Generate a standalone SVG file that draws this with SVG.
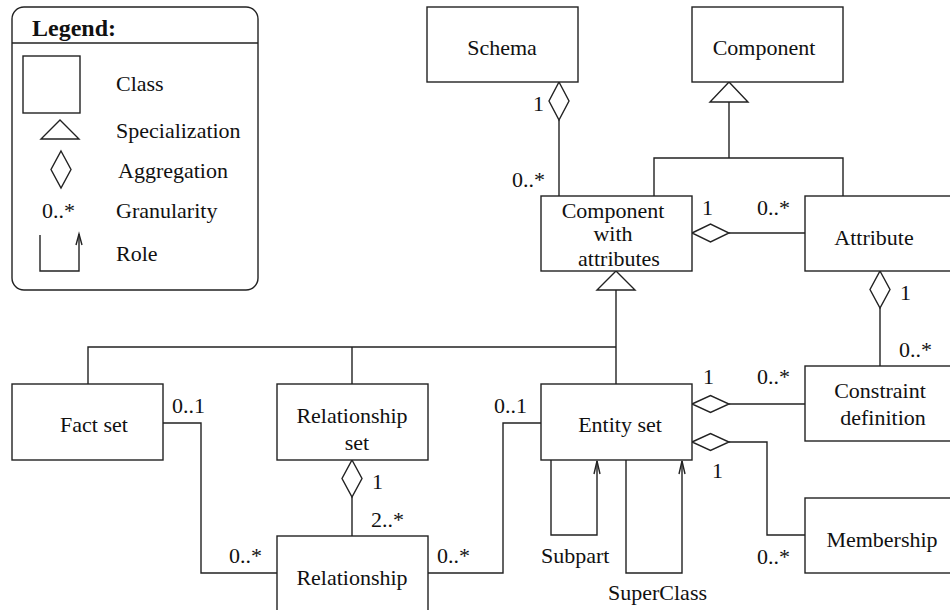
<svg xmlns="http://www.w3.org/2000/svg" width="950" height="610" viewBox="0 0 950 610">
  <style>
    .box { fill: #fff; stroke: #222; stroke-width: 1.4; }
    .ln { fill: none; stroke: #222; stroke-width: 1.4; }
    .sym { fill: #fff; stroke: #222; stroke-width: 1.4; }
    text { font-family: 'Liberation Serif', 'Times New Roman', Times, 'DejaVu Serif', serif; font-size: 22px; fill: #111; }
    .c { text-anchor: middle; }
    .b { font-weight: bold; font-size: 24px; }
  </style>
  <rect width="950" height="610" fill="#fff"/>

  <!-- Legend -->
  <g id="legend">
    <rect x="12" y="7" width="246" height="283" rx="12" ry="12" class="box"/>
    <line x1="12" y1="43" x2="258" y2="43" class="ln"/>
    <text x="32" y="36" class="b">Legend:</text>
    <rect x="23" y="56" width="57" height="57" class="box"/>
    <polygon points="60,120 79,139 41,139" class="sym"/>
    <polygon points="61,151 71,169.5 61,188 51,169.5" class="sym"/>
    <text x="42" y="218">0..*</text>
    <path d="M40 235 V271 H79 V234" class="ln"/>
    <path d="M76 245 L79 234 L82 245" class="ln"/>
    <text x="116" y="91">Class</text>
    <text x="116" y="138">Specialization</text>
    <text x="118" y="178">Aggregation</text>
    <text x="116" y="218">Granularity</text>
    <text x="116" y="261">Role</text>
  </g>

  <!-- Connectors -->
  <g id="connectors">
    <!-- Schema aggregates Component with attributes -->
    <line x1="559" y1="120" x2="559" y2="196" class="ln"/>
    <polygon points="559,82 569,101 559,120 549,101" class="sym"/>
    <!-- Component specialisation -->
    <line x1="729" y1="102" x2="729" y2="158" class="ln"/>
    <path d="M654 196 V158 H843 V196" class="ln"/>
    <polygon points="729,82 748,102 710,102" class="sym"/>
    <!-- Component with attributes aggregates Attribute -->
    <line x1="729" y1="233" x2="805" y2="233" class="ln"/>
    <polygon points="692,233 710.5,224 729,233 710.5,242" class="sym"/>
    <!-- Attribute aggregates Constraint definition -->
    <line x1="880" y1="308" x2="880" y2="366" class="ln"/>
    <polygon points="880,271 890,289.5 880,308 870,289.5" class="sym"/>
    <!-- Component with attributes specialisation -->
    <line x1="616" y1="290" x2="616" y2="384" class="ln"/>
    <path d="M88 384 V347 H616" class="ln"/>
    <line x1="352" y1="347" x2="352" y2="384" class="ln"/>
    <polygon points="616,271 635,290 597,290" class="sym"/>
    <!-- Fact set to Relationship -->
    <path d="M163 423 H201 V573 H277" class="ln"/>
    <!-- Relationship set aggregates Relationship -->
    <line x1="352" y1="497" x2="352" y2="536" class="ln"/>
    <polygon points="352,460 362,478.5 352,497 342,478.5" class="sym"/>
    <!-- Relationship to Entity set -->
    <path d="M428 573 H503 V423 H541" class="ln"/>
    <!-- Entity set roles -->
    <path d="M551 460 V535 H597 V461" class="ln"/>
    <path d="M594 474 L597 461 L600 474" class="ln"/>
    <path d="M626 460 V573 H682 V461" class="ln"/>
    <path d="M679 474 L682 461 L685 474" class="ln"/>
    <!-- Entity set aggregates Constraint definition -->
    <line x1="729" y1="404" x2="805" y2="404" class="ln"/>
    <polygon points="692,404 710.5,395.5 729,404 710.5,412.5" class="sym"/>
    <!-- Entity set aggregates Membership -->
    <path d="M729 442 H767 V535 H805" class="ln"/>
    <polygon points="692,442 710.5,433.5 729,442 710.5,450.5" class="sym"/>
  </g>

  <!-- Multiplicities and role names -->
  <g id="labels">
    <text x="533" y="111">1</text>
    <text x="512" y="187">0..*</text>
    <text x="702" y="215">1</text>
    <text x="757" y="215">0..*</text>
    <text x="900" y="300">1</text>
    <text x="899" y="357">0..*</text>
    <text x="703" y="384">1</text>
    <text x="757" y="384">0..*</text>
    <text x="712" y="478">1</text>
    <text x="757" y="564">0..*</text>
    <text x="541" y="563">Subpart</text>
    <text x="608" y="600">SuperClass</text>
    <text x="494" y="413">0..1</text>
    <text x="172" y="413">0..1</text>
    <text x="372" y="489">1</text>
    <text x="371" y="527">2..*</text>
    <text x="229" y="563">0..*</text>
    <text x="437" y="563">0..*</text>
  </g>

  <!-- Classes -->
  <g id="schema">
    <rect x="427" y="7" width="151" height="75" class="box"/>
    <text x="502" y="55" class="c">Schema</text>
  </g>
  <g id="component">
    <rect x="692" y="7" width="151" height="75" class="box"/>
    <text x="764" y="55" class="c">Component</text>
  </g>
  <g id="component-with-attributes">
    <rect x="541" y="196" width="151" height="75" class="box"/>
    <text x="613" y="218" class="c">Component</text>
    <text x="613" y="241" class="c">with</text>
    <text x="619" y="266" class="c">attributes</text>
  </g>
  <g id="attribute">
    <rect x="805" y="196" width="150" height="75" class="box"/>
    <text x="874" y="245" class="c">Attribute</text>
  </g>
  <g id="fact-set">
    <rect x="12" y="384" width="151" height="76" class="box"/>
    <text x="94" y="432" class="c">Fact set</text>
  </g>
  <g id="relationship-set">
    <rect x="277" y="384" width="151" height="76" class="box"/>
    <text x="352" y="423" class="c">Relationship</text>
    <text x="357" y="450" class="c">set</text>
  </g>
  <g id="entity-set">
    <rect x="541" y="384" width="151" height="76" class="box"/>
    <text x="620" y="432" class="c">Entity set</text>
  </g>
  <g id="constraint-definition">
    <rect x="805" y="366" width="150" height="75" class="box"/>
    <text x="880" y="398" class="c">Constraint</text>
    <text x="883" y="425" class="c">definition</text>
  </g>
  <g id="membership">
    <rect x="805" y="498" width="150" height="75" class="box"/>
    <text x="882" y="547" class="c">Membership</text>
  </g>
  <g id="relationship">
    <rect x="277" y="536" width="151" height="80" class="box"/>
    <text x="352" y="585" class="c">Relationship</text>
  </g>
</svg>
